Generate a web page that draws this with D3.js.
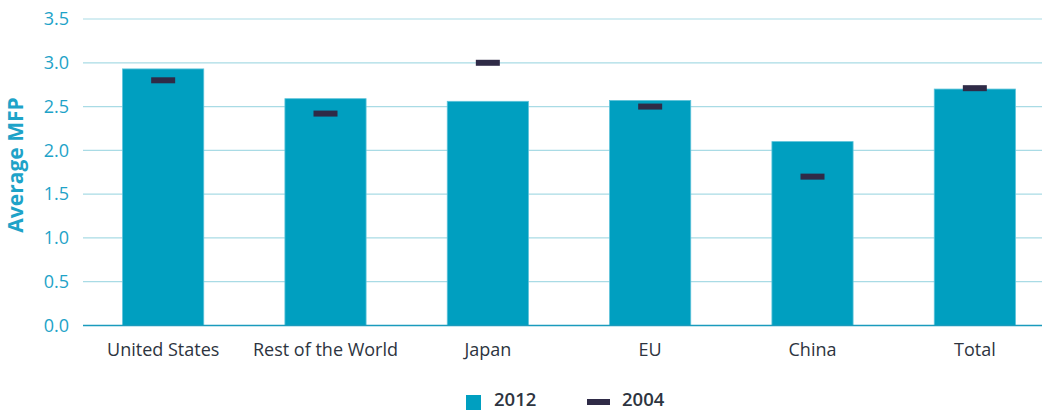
<!DOCTYPE html>
<html><head><meta charset="utf-8">
<script src="https://cdn.jsdelivr.net/npm/d3@7"></script>
<style>body{margin:0;background:#fff;} svg{display:block;font-family:"Open Sans",sans-serif;}</style>
</head><body><svg id="c" width="1042" height="413"></svg>
<script>
const categories = ["United States","Rest of the World","Japan","EU","China","Total"];
const values2012 = [2.93, 2.59, 2.56, 2.57, 2.10, 2.70];
const values2004 = [2.80, 2.42, 3.00, 2.50, 1.70, 2.71];
const yTicks = [0,0.5,1.0,1.5,2.0,2.5,3.0,3.5];
const seriesNames = ["2012","2004"];

const svg = d3.select("#c");
const x = d3.scaleBand().domain(categories).range([82,1056]).paddingInner(0.5).paddingOuter(0.25);
const y = d3.scaleLinear().domain([0,3.5]).range([325.5,19]);

// grid
svg.append("g").selectAll("line").data(yTicks.slice(1)).join("line")
  .attr("x1",83).attr("x2",1042).attr("y1",d=>y(d)).attr("y2",d=>y(d))
  .attr("stroke","#a9dbe5").attr("stroke-width",1.2);

// y axis labels
const ya = svg.append("g").attr("transform","translate(69,0)")
  .call(d3.axisLeft(y).tickValues(yTicks).tickFormat(d3.format(".1f")).tickSize(0).tickPadding(0));
ya.select(".domain").remove();
ya.selectAll("text").attr("fill","#1ea3c8").attr("font-size",18).attr("font-family","Open Sans");

// bars
svg.append("g").selectAll("rect").data(categories).join("rect")
  .attr("x",d=>x(d)).attr("width",x.bandwidth())
  .attr("y",(d,i)=>y(values2012[i])).attr("height",(d,i)=>y(0)-y(values2012[i]))
  .attr("fill","#009fc0").attr("stroke","#5cc3da").attr("stroke-width",0.8);

// baseline
svg.append("line").attr("x1",83).attr("x2",1042).attr("y1",y(0)).attr("y2",y(0))
  .attr("stroke","#1a9bbd").attr("stroke-width",1.5);

// markers
svg.append("g").selectAll("rect").data(categories).join("rect")
  .attr("x",d=>x(d)+x.bandwidth()/2-12).attr("width",24)
  .attr("y",(d,i)=>y(values2004[i])-3).attr("height",6)
  .attr("fill","#2f2b47");

// x labels
const xa = svg.append("g").attr("transform",`translate(0,${y(0)})`)
  .call(d3.axisBottom(x).tickSize(0).tickPadding(18));
xa.select(".domain").remove();
xa.selectAll("text").attr("fill","#2d3440").attr("font-size",18).attr("font-family","Open Sans");

// y title
svg.append("text").attr("transform","translate(23,165) rotate(-90)").attr("text-anchor","middle")
  .attr("fill","#1ea3c8").attr("font-size",21).attr("font-weight","bold").text("Average MFP");

// legend
const lg = svg.append("g");
lg.append("rect").attr("x",466).attr("y",395).attr("width",15).attr("height",15).attr("fill","#009fc0");
lg.append("text").attr("x",494).attr("y",406).attr("font-size",18.5).attr("font-weight",600).attr("fill","#2d3440").text(seriesNames[0]);
lg.append("rect").attr("x",587).attr("y",399).attr("width",23).attr("height",6).attr("fill","#2f2b47");
lg.append("text").attr("x",622).attr("y",406).attr("font-size",18.5).attr("font-weight",600).attr("fill","#2d3440").text(seriesNames[1]);
</script></body></html>
